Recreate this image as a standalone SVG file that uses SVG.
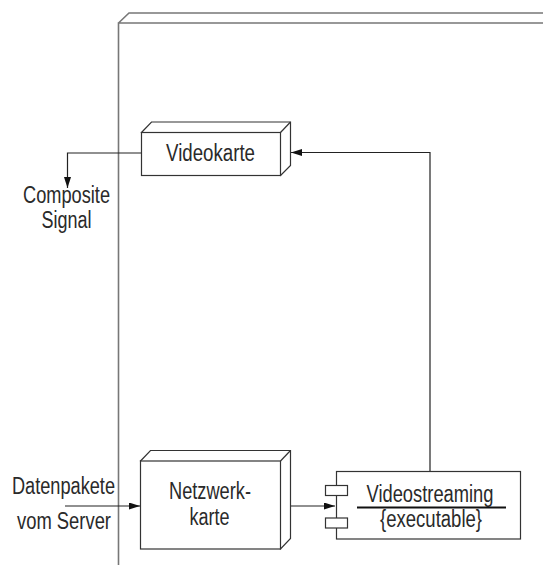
<svg xmlns="http://www.w3.org/2000/svg" width="543" height="565" viewBox="0 0 543 565">
<defs>
<marker id="ah" markerWidth="12" markerHeight="8" refX="11" refY="3.5" orient="auto" markerUnits="userSpaceOnUse">
<path d="M0,0 L11,3.5 L0,7 z" fill="#111"/>
</marker>
<style>
.t{font-family:"Liberation Sans",Arial,sans-serif;font-size:23px;fill:#2a2a2a;text-anchor:middle}
.n{fill:#fff;stroke:#333;stroke-width:1.2}
.c{fill:none;stroke:#222;stroke-width:1.2}
.o{fill:none;stroke:#777;stroke-width:1.6}
</style>
</defs>
<rect width="543" height="565" fill="#fff"/>
<g id="server">
<path class="o" d="M118.5,565 V23 H543 M118.5,23 L129,13 H543"/>
</g>
<g id="connectors">
<path class="c" d="M141.5,153 H67.5 V188" marker-end="url(#ah)"/>
<path class="c" d="M65,506 H140" marker-end="url(#ah)"/>
<path class="c" d="M280.5,506 H335" marker-end="url(#ah)"/>
<path class="c" d="M430,471 V152.5 H291" marker-end="url(#ah)"/>
</g>
<g id="videokarte">
<path class="n" d="M141.5,132.5 L151.5,122 H290.5 V165.5 L280.5,175.5 Z"/>
<path class="n" d="M280.5,132.5 L290.5,122"/>
<rect class="n" x="141.5" y="132.5" width="139" height="43"/>
<text class="t" x="210.5" y="161" textLength="89" lengthAdjust="spacingAndGlyphs">Videokarte</text>
</g>
<g id="composite-signal">
<text class="t" x="66.5" y="203" textLength="87" lengthAdjust="spacingAndGlyphs">Composite</text>
<text class="t" x="66.5" y="228" textLength="50" lengthAdjust="spacingAndGlyphs">Signal</text>
</g>
<g id="datenpakete">
<text class="t" x="63.5" y="494" textLength="103" lengthAdjust="spacingAndGlyphs">Datenpakete</text>
<text class="t" x="64" y="529" textLength="94" lengthAdjust="spacingAndGlyphs">vom Server</text>
</g>
<g id="netzwerkkarte">
<path class="n" d="M140.5,461 L150.5,450.5 H290.5 V538.5 L280.5,549 Z"/>
<path class="n" d="M280.5,461 L290.5,450.5"/>
<rect class="n" x="140.5" y="461" width="140" height="88"/>
<text class="t" x="210" y="499" textLength="82" lengthAdjust="spacingAndGlyphs">Netzwerk-</text>
<text class="t" x="209.5" y="525" textLength="40" lengthAdjust="spacingAndGlyphs">karte</text>
</g>
<g id="videostreaming">
<rect class="n" x="336.5" y="471.5" width="184" height="67.5"/>
<rect class="n" x="325.5" y="485.5" width="22" height="10"/>
<rect class="n" x="325.5" y="518" width="22" height="10"/>
<text class="t" x="430" y="501.5" textLength="127" lengthAdjust="spacingAndGlyphs">Videostreaming</text>
<line x1="357" y1="507.5" x2="506" y2="507.5" stroke="#111" stroke-width="2"/>
<text class="t" x="431" y="527" textLength="102" lengthAdjust="spacingAndGlyphs">{executable}</text>
</g>
</svg>
